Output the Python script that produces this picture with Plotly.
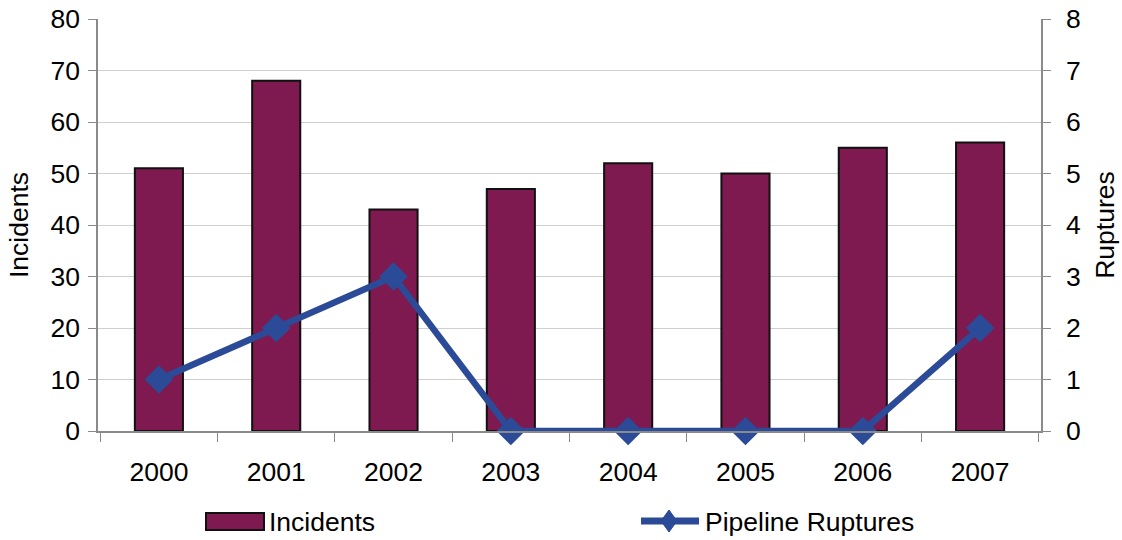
import plotly.graph_objects as go

years = ["2000", "2001", "2002", "2003", "2004", "2005", "2006", "2007"]
incidents = [51, 68, 43, 47, 52, 50, 55, 56]
ruptures = [1, 2, 3, 0, 0, 0, 0, 2]

bar_color = "#7E1A4F"
line_color = "#2B4A97"
axis_gray = "#8a8a8a"
font_family = "Liberation Sans, Arial, sans-serif"

W, H = 1122, 540
M_L, M_R, M_T, M_B = 98, 81, 19, 109
PLOT_W = W - M_L - M_R
PLOT_H = H - M_T - M_B


def px_x(px):
    """Horizontal pixel position -> paper fraction."""
    return (px - M_L) / PLOT_W


def px_y(py):
    """Vertical pixel position (from top) -> paper fraction."""
    return (H - M_B - py) / PLOT_H


fig = go.Figure()
fig.add_trace(go.Bar(
    x=years, y=incidents, name="Incidents",
    marker=dict(color=bar_color, line=dict(color="#111", width=2)),
    yaxis="y",
))
fig.add_trace(go.Scatter(
    x=years, y=ruptures, name="Pipeline Ruptures", mode="lines+markers",
    line=dict(color=line_color, width=6.5),
    marker=dict(symbol="diamond", size=22, color=line_color),
    yaxis="y2", cliponaxis=False,
))

axis_font = dict(family=font_family, size=26.5, color="#000")

# Legend drawn below the plot: swatch + label for each series
legend_y = 521
shapes = [
    dict(type="rect", xref="paper", yref="paper",
         x0=px_x(206), x1=px_x(264), y0=px_y(530), y1=px_y(513),
         fillcolor=bar_color, line=dict(color="#111", width=2), layer="above"),
    dict(type="line", xref="paper", yref="paper",
         x0=px_x(641), x1=px_x(699), y0=px_y(legend_y), y1=px_y(legend_y),
         line=dict(color=line_color, width=7), layer="above"),
    dict(type="path", xref="paper", yref="paper",
         path=(f"M {px_x(669)},{px_y(510)} L {px_x(677)},{px_y(legend_y)} "
               f"L {px_x(669)},{px_y(532)} L {px_x(661)},{px_y(legend_y)} Z"),
         fillcolor=line_color, line=dict(color=line_color, width=1), layer="above"),
]
annotations = [
    dict(text="Incidents", xref="paper", yref="paper", x=px_x(267), y=px_y(legend_y + 1),
         xanchor="left", yanchor="middle", showarrow=False, font=axis_font),
    dict(text="Pipeline Ruptures", xref="paper", yref="paper", x=px_x(703), y=px_y(legend_y + 1),
         xanchor="left", yanchor="middle", showarrow=False, font=axis_font),
]

fig.update_layout(
    width=W, height=H,
    margin=dict(l=M_L, r=M_R, t=M_T, b=M_B, autoexpand=False),
    paper_bgcolor="white", plot_bgcolor="white",
    font=dict(family=font_family, size=26.5, color="#000"),
    showlegend=False,
    bargap=0.59,
    shapes=shapes,
    annotations=annotations,
    xaxis=dict(
        type="category", tickfont=axis_font,
        showline=True, linecolor=axis_gray, linewidth=1.5,
        ticks="outside", tickson="boundaries", ticklen=9, tickcolor=axis_gray,
        ticklabelstandoff=16, showgrid=False,
    ),
    yaxis=dict(
        range=[0, 80], dtick=10, tickfont=axis_font,
        title=dict(text="Incidents", font=axis_font, standoff=14),
        showline=True, linecolor=axis_gray, linewidth=1.5,
        ticks="outside", ticklen=8, tickcolor=axis_gray, ticklabelstandoff=3,
        showgrid=True, gridcolor="#cfcfcf", gridwidth=1, zeroline=False,
    ),
    yaxis2=dict(
        range=[0, 8], dtick=1, tickfont=axis_font, overlaying="y", side="right",
        title=dict(text="Ruptures", font=axis_font, standoff=16),
        showline=True, linecolor=axis_gray, linewidth=1.5,
        ticks="outside", ticklen=8, tickcolor=axis_gray, ticklabelstandoff=10,
        showgrid=False, zeroline=False,
    ),
)

fig.write_html("out.html")
